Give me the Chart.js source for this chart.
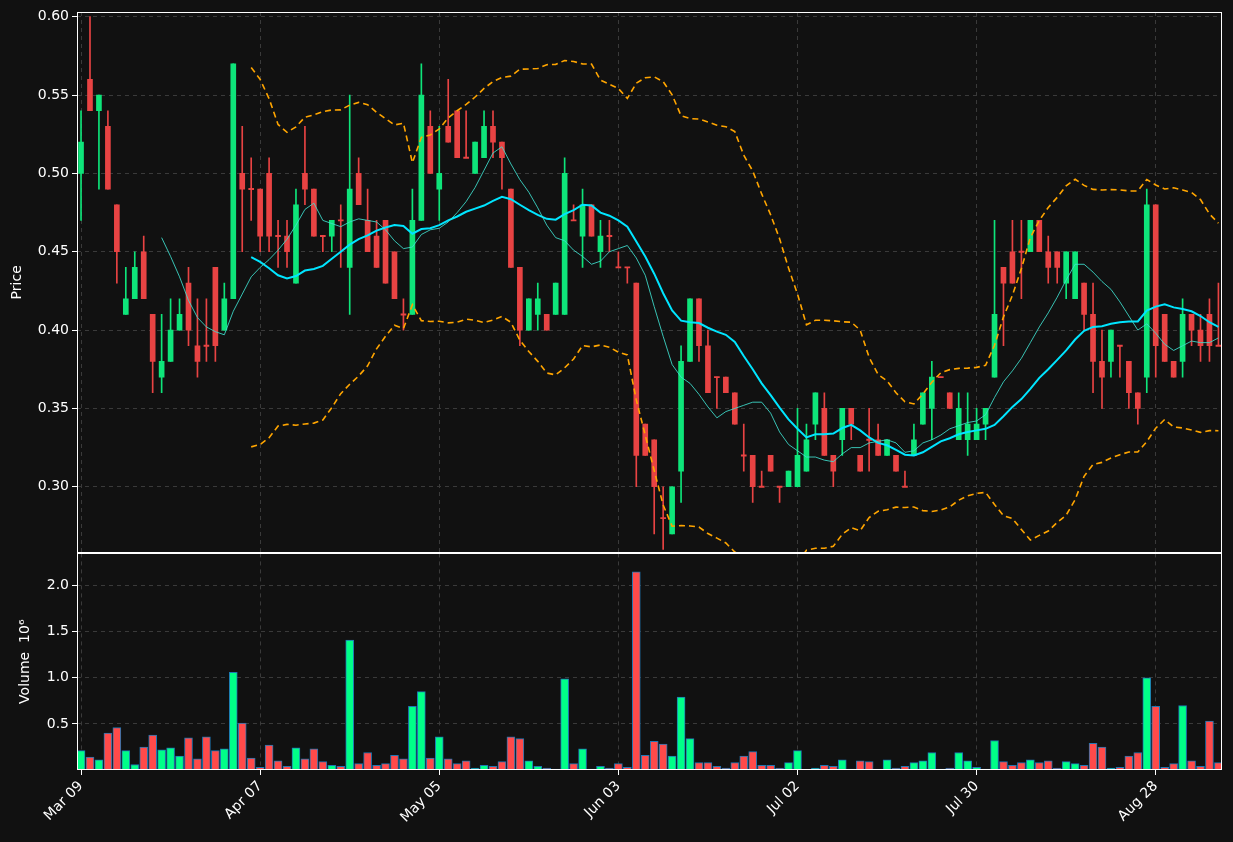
<!DOCTYPE html>
<html><head><meta charset="utf-8">
<script src="https://cdn.jsdelivr.net/npm/chart.js@4"></script>
<style>
html,body{margin:0;padding:0;background:#111111;width:1233px;height:842px;overflow:hidden}
#p{position:absolute;left:0;top:0;width:1233px;height:564px}
#v{position:absolute;left:0;top:542px;width:1233px;height:300px}
</style></head><body>
<div id="p"><canvas id="pc"></canvas></div>
<div id="v"><canvas id="vc"></canvas></div>
<script>
const tickDates = ["Mar 09","Apr 07","May 05","Jun 03","Jul 02","Jul 30","Aug 28"];
const tickIndex = [0,20,40,60,80,100,120];
const opens = [.50,.56,.54,.53,.48,.41,.42,.45,.41,.37,.38,.40,.43,.39,.39,.44,.40,.42,.50,.49,
.49,.50,.46,.46,.43,.50,.49,.46,.46,.47,.44,.50,.47,.46,.47,.45,.41,.41,.47,.53,
.49,.53,.54,.51,.50,.51,.53,.52,.49,.44,.40,.41,.41,.41,.41,.47,.46,.48,.45,.46,
.44,.44,.43,.34,.33,.28,.27,.31,.38,.42,.39,.37,.37,.36,.32,.32,.30,.32,.30,.30,
.30,.31,.34,.35,.32,.33,.35,.32,.33,.33,.32,.32,.30,.32,.34,.35,.37,.36,.33,.33,
.33,.34,.37,.44,.45,.45,.45,.47,.45,.45,.43,.42,.43,.41,.38,.38,.39,.38,.36,.37,
.48,.41,.38,.38,.41,.40,.41,.39];
const highs = [.54,.60,.55,.54,.48,.44,.45,.46,.41,.41,.42,.42,.44,.42,.42,.44,.43,.57,.53,.51,
.49,.51,.47,.47,.49,.53,.49,.46,.47,.48,.55,.51,.49,.47,.47,.45,.42,.49,.57,.54,
.53,.56,.54,.54,.52,.54,.54,.52,.49,.44,.42,.43,.41,.43,.51,.48,.49,.48,.47,.47,
.45,.44,.43,.34,.33,.30,.30,.39,.42,.42,.40,.37,.37,.36,.34,.32,.31,.32,.30,.31,
.35,.34,.36,.36,.32,.35,.35,.32,.35,.34,.33,.32,.31,.34,.36,.38,.37,.36,.36,.36,
.35,.35,.47,.44,.47,.47,.47,.47,.46,.45,.45,.45,.43,.43,.40,.40,.39,.38,.36,.49,
.48,.41,.38,.42,.41,.41,.42,.43];
const lows = [.47,.54,.49,.49,.43,.41,.42,.42,.36,.36,.38,.40,.39,.37,.38,.38,.40,.42,.45,.47,
.45,.45,.44,.44,.43,.48,.46,.45,.45,.44,.41,.48,.45,.44,.43,.42,.40,.41,.47,.50,
.47,.52,.51,.51,.50,.51,.51,.49,.44,.39,.40,.40,.40,.41,.41,.47,.44,.46,.44,.45,
.44,.43,.30,.32,.27,.26,.27,.29,.38,.38,.36,.35,.36,.34,.31,.29,.30,.31,.29,.30,
.30,.31,.33,.32,.30,.32,.33,.31,.31,.32,.32,.31,.30,.32,.34,.33,.37,.35,.33,.32,
.33,.33,.37,.39,.43,.42,.45,.45,.43,.43,.42,.42,.40,.36,.35,.37,.37,.35,.34,.36,
.37,.38,.37,.37,.39,.38,.38,.39];
const closes = [.52,.54,.55,.49,.45,.42,.44,.42,.38,.38,.40,.41,.40,.38,.39,.39,.42,.57,.49,.49,
.46,.46,.46,.45,.48,.49,.46,.46,.47,.47,.49,.48,.45,.44,.43,.42,.41,.47,.55,.50,
.50,.52,.51,.51,.52,.53,.52,.51,.44,.40,.42,.42,.40,.43,.50,.47,.48,.46,.46,.46,
.44,.44,.32,.32,.30,.28,.30,.38,.42,.39,.36,.37,.36,.34,.32,.30,.30,.31,.30,.31,
.32,.33,.36,.32,.31,.35,.34,.31,.33,.32,.33,.31,.30,.33,.36,.37,.37,.35,.35,.34,
.34,.35,.41,.43,.43,.45,.47,.45,.44,.44,.45,.45,.41,.38,.37,.40,.39,.36,.35,.48,
.39,.38,.37,.41,.40,.39,.39,.39];
const volumes = [.21,.14,.11,.40,.46,.21,.06,.25,.38,.22,.24,.15,.35,.12,.36,.21,.23,1.06,.51,.13,
.03,.27,.10,.04,.24,.12,.23,.09,.05,.04,1.41,.07,.19,.05,.07,.16,.12,.69,.85,.13,
.36,.12,.07,.10,.02,.05,.04,.09,.36,.34,.10,.04,.02,.01,.99,.07,.23,.01,.04,.02,
.07,.03,2.15,.16,.31,.28,.15,.79,.34,.08,.08,.04,.02,.08,.15,.20,.05,.05,.02,.08,
.21,.005,.02,.05,.04,.11,.01,.10,.09,.01,.11,.02,.04,.08,.10,.19,.01,.02,.19,.10,
.03,.01,.32,.09,.05,.08,.11,.08,.10,.02,.09,.07,.05,.29,.25,.02,.03,.15,.19,1.00,
.69,.03,.07,.70,.10,.04,.53,.08];

const N = closes.length;
const up = closes.map((c,i)=>c>opens[i]);
function sma(p){return closes.map((_,i)=>{if(i<p-1)return null;let s=0;for(let k=i-p+1;k<=i;k++)s+=closes[k];return s/p;});}
const ma10 = sma(10), ma20 = sma(20);
const bbU=[],bbL=[];
for(let i=0;i<N;i++){ if(i<19){bbU.push(null);bbL.push(null);continue;}
  let m=ma20[i],s=0;for(let k=i-19;k<=i;k++)s+=(closes[k]-m)**2;const sd=Math.sqrt(s/20);
  bbU.push(m+2*sd);bbL.push(m-2*sd);}

const G='#0ee57a',R='#e84343',VG='#00ff88',VR='#ff4a4a';
const XMIN=-0.45,XMAX=127.4;
const frame={id:'frame',afterDraw(c){const a=c.chartArea,x=c.ctx;x.save();x.strokeStyle='#ffffff';x.lineWidth=1;
  x.strokeRect(Math.round(a.left)+0.5,Math.round(a.top)+0.5,Math.round(a.right-a.left)-1,Math.round(a.bottom-a.top)-1);x.restore();}};
const font={family:'DejaVu Sans',size:14};
const gridY={color:'#3a3a3a',tickColor:'#ffffff',tickLength:5};
function xScale(showLabels){return {type:'linear',min:XMIN,max:XMAX,offset:false,
  afterBuildTicks:s=>{s.ticks=tickIndex.map(v=>({value:v}));},
  afterFit:s=>{ s.height = showLabels?72:0; },
  grid:{color:'#3a3a3a',tickColor:'#ffffff',tickLength:showLabels?5:0,offset:false},
  border:{display:false,dash:[4,4]},
  ticks:{display:showLabels,color:'#ffffff',font,minRotation:45,maxRotation:45,autoSkip:false,
    callback:v=>{const j=tickIndex.indexOf(v);return j>=0?tickDates[j]:'';}}};}

Chart.defaults.animation=false;
const lineDS=(data,color,w,dash)=>({type:'line',data:data.map((y,i)=>({x:i,y})),borderColor:color,borderWidth:w,
  borderDash:dash||[],pointRadius:0,spanGaps:false,order:0,tension:0});

new Chart(document.getElementById('pc'),{
  type:'bar',
  data:{datasets:[
    {data:closes.map((c,i)=>({x:i,y:[lows[i],highs[i]]})),backgroundColor:up.map(u=>u?G:R),barThickness:1,grouped:false,order:2},
    {data:closes.map((c,i)=>{let a=Math.min(c,opens[i]),b=Math.max(c,opens[i]);if(b-a<0.001){a=c-0.0004;b=c+0.0004;}return {x:i,y:[a,b]};}),
      backgroundColor:up.map(u=>u?G:R),barThickness:5,grouped:false,order:1},
    lineDS(ma10,'rgba(64,224,208,0.85)',1),
    lineDS(ma20,'#00e5ff',2),
    lineDS(bbU,'#ffa500',1.6,[6,4]),
    lineDS(bbL,'#ffa500',1.6,[6,4])
  ]},
  options:{responsive:true,maintainAspectRatio:false,layout:{autoPadding:false,padding:{top:12,right:11,bottom:1,left:9}},
    plugins:{legend:{display:false},tooltip:{enabled:false}},
    scales:{x:xScale(false),
      y:{min:0.258,max:0.603,afterFit:s=>{s.width=68;},
        afterBuildTicks:s=>{s.ticks=[.30,.35,.40,.45,.50,.55,.60].map(v=>({value:v}));},
        grid:gridY,border:{display:false,dash:[4,4]},
        ticks:{color:'#ffffff',font,callback:v=>v.toFixed(2)},
        title:{display:true,text:'Price',color:'#ffffff',font,padding:{top:0,bottom:4}}}}},
  plugins:[frame]
});

new Chart(document.getElementById('vc'),{
  type:'bar',
  data:{datasets:[{data:volumes.map((v,i)=>({x:i,y:v})),backgroundColor:up.map(u=>u?VG:VR),
    borderColor:'#1f77b4',borderWidth:1,barThickness:8}]},
  options:{responsive:true,maintainAspectRatio:false,layout:{autoPadding:false,padding:{top:1,right:11,bottom:0,left:17}},
    plugins:{legend:{display:false},tooltip:{enabled:false}},
    scales:{x:xScale(true),
      y:{min:0,max:2.35,afterFit:s=>{s.width=60;},
        afterBuildTicks:s=>{s.ticks=[0.5,1.0,1.5,2.0].map(v=>({value:v}));},
        grid:gridY,border:{display:false,dash:[4,4]},
        ticks:{color:'#ffffff',font,callback:v=>v.toFixed(1)},
        title:{display:true,text:'Volume  10\u2076',color:'#ffffff',font,padding:{top:0,bottom:4}}}}},
  plugins:[frame]
});
</script></body></html>
